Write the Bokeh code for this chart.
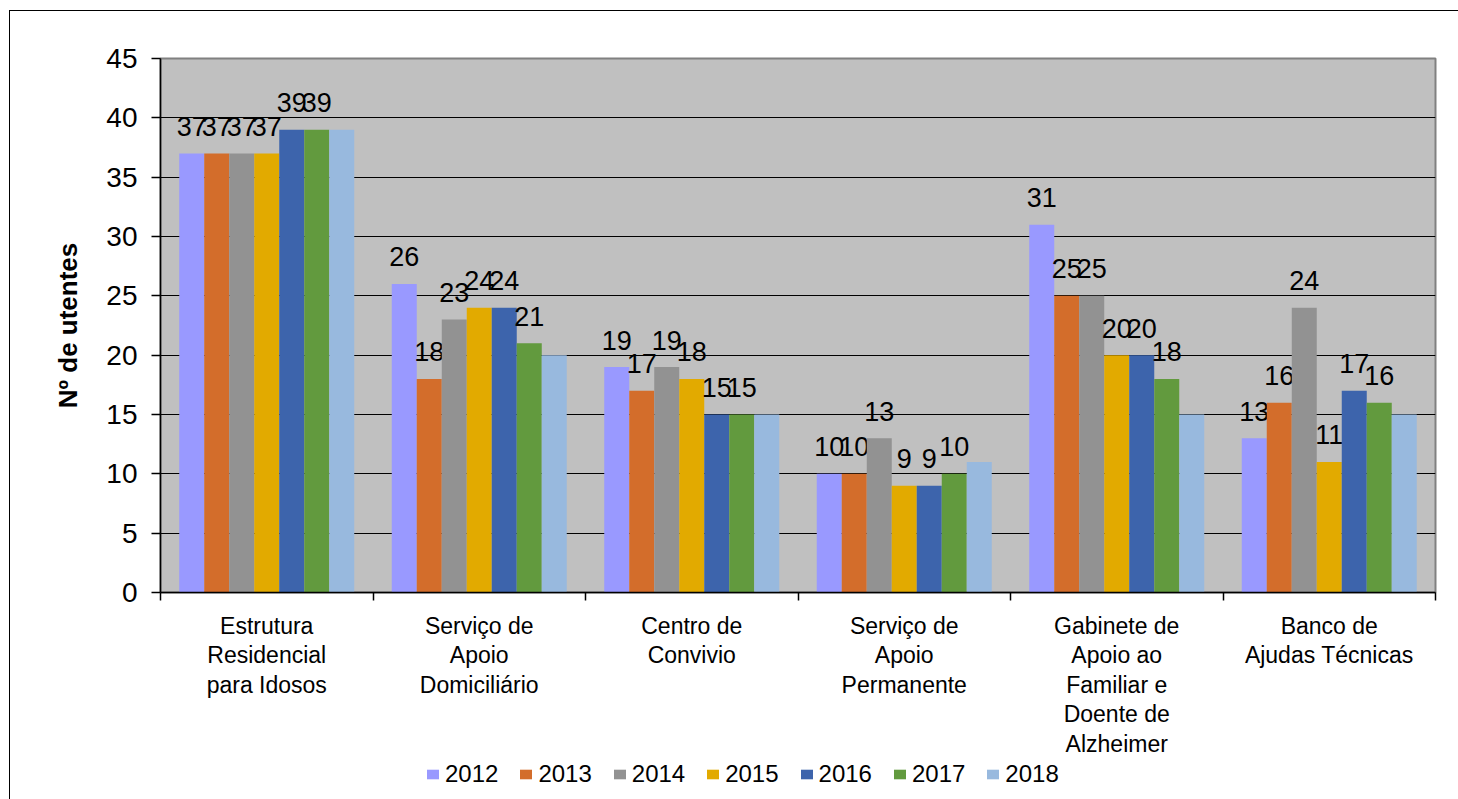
from bokeh.plotting import figure
from bokeh.layouts import column
from bokeh.models import ColumnDataSource, FixedTicker, Legend, LegendItem, Range1d
from bokeh.transform import dodge
from bokeh.core.properties import value
from bokeh.embed import file_html
from bokeh.resources import INLINE

categories = [
    "Estrutura\nResidencial\npara Idosos",
    "Serviço de\nApoio\nDomiciliário",
    "Centro de\nConvivio",
    "Serviço de\nApoio\nPermanente",
    "Gabinete de\nApoio ao\nFamiliar e\nDoente de\nAlzheimer",
    "Banco de\nAjudas Técnicas",
]
years = ["2012", "2013", "2014", "2015", "2016", "2017", "2018"]
v2012 = [37, 26, 19, 10, 31, 13]
v2013 = [37, 18, 17, 10, 25, 16]
v2014 = [37, 23, 19, 13, 25, 24]
v2015 = [37, 24, 18, 9, 20, 11]
v2016 = [39, 24, 15, 9, 20, 17]
v2017 = [39, 21, 15, 10, 18, 16]
v2018 = [39, 20, 15, 11, 15, 15]
show_labels = [True, True, True, True, True, True, False]
y_ticks = [0, 5, 10, 15, 20, 25, 30, 35, 40, 45]

series = [v2012, v2013, v2014, v2015, v2016, v2017, v2018]
colors = ["#9999FF", "#D36D2B", "#929292", "#E2AA00", "#3D64AC", "#629A3E", "#98B9DE"]

FONT = "Liberation Sans"
centers = [i + 0.5 for i in range(len(categories))]
data = {"x": centers}
for y, s in zip(years, series):
    data["v" + y] = s
    data["t" + y] = [str(v) for v in s]
src = ColumnDataSource(data)

p = figure(width=1449, height=749, x_range=(0, len(categories)), y_range=(0, 45),
           output_backend="svg", toolbar_location=None,
           min_border_left=150, min_border_right=24, min_border_top=47, min_border_bottom=166,
           background_fill_color="#C0C0C0", border_fill_color="white")
p.outline_line_color = "#808080"
p.outline_line_width = 2

w = 25 / 212.5
for j, (y, c) in enumerate(zip(years, colors)):
    off = (j - 3) * w
    p.vbar(x=dodge("x", off, range=p.x_range), top="v" + y, width=w, source=src,
           fill_color=c, line_color=None)
    if show_labels[j]:
        p.text(x=dodge("x", off, range=p.x_range), y="v" + y, text="t" + y, source=src,
               text_font=value(FONT), text_font_size="27px", text_color="black",
               text_align="center", text_baseline="alphabetic", y_offset=-27)

# axes
p.yaxis.ticker = FixedTicker(ticks=y_ticks)
p.yaxis.major_tick_out = 9
p.yaxis.major_tick_in = 0
p.yaxis.minor_tick_line_color = None
p.yaxis.major_label_text_font = FONT
p.yaxis.major_label_text_font_size = "28px"
p.yaxis.major_label_text_color = "black"
p.yaxis.major_label_standoff = 14
p.yaxis.axis_line_color = "black"
p.yaxis.axis_line_width = 1.5
p.yaxis.major_tick_line_color = "black"
p.yaxis.major_tick_line_width = 1.5
p.yaxis.axis_label = "Nº de utentes"
p.yaxis.axis_label_text_font = FONT
p.yaxis.axis_label_text_font_style = "bold"
p.yaxis.axis_label_text_font_size = "26px"
p.yaxis.axis_label_text_color = "black"
p.yaxis.axis_label_standoff = 20

p.xaxis.ticker = FixedTicker(ticks=centers, minor_ticks=list(range(len(categories) + 1)))
p.xaxis.major_label_overrides = {c: lab for c, lab in zip(centers, categories)}
p.xaxis.major_tick_line_color = None
p.xaxis.major_tick_out = 0
p.xaxis.major_tick_in = 0
p.xaxis.minor_tick_out = 8
p.xaxis.minor_tick_in = 0
p.xaxis.minor_tick_line_color = "black"
p.xaxis.minor_tick_line_width = 1.5
p.xaxis.axis_line_color = "black"
p.xaxis.axis_line_width = 1.5
p.xaxis.major_label_text_font = FONT
p.xaxis.major_label_text_font_size = "23px"
p.xaxis.major_label_text_color = "black"
p.xaxis.major_label_text_line_height = 1.14
p.xaxis.major_label_standoff = 12

p.xgrid.grid_line_color = None
p.ygrid.ticker = FixedTicker(ticks=y_ticks[1:-1])
p.ygrid.grid_line_color = "black"
p.ygrid.grid_line_width = 1.2

# legend strip below the chart: same series, in a strip whose ranges show no bars
q = figure(width=1449, height=40, output_backend="svg", toolbar_location=None,
           x_range=Range1d(100, 106), y_range=Range1d(100, 101),
           x_axis_type=None, y_axis_type=None, min_border=0,
           background_fill_color="white", border_fill_color="white")
q.outline_line_color = None
q.xgrid.grid_line_color = None
q.ygrid.grid_line_color = None
items = []
for y, c in zip(years, colors):
    r = q.vbar(x="x", top="v" + y, width=w, source=src, fill_color=c, line_color=None)
    items.append(LegendItem(label=y, renderers=[r]))
legend = Legend(items=items, orientation="horizontal", location=(265, 12),
                glyph_width=15, glyph_height=12, label_standoff=5, spacing=20,
                padding=0, margin=0, border_line_color=None, background_fill_alpha=0,
                label_text_font=FONT, label_text_font_size="24px", label_text_color="black")
q.add_layout(legend, "center")

layout = column(p, q, spacing=0)
layout.margin = (10, 0, 0, 9)
layout.styles = {"border-top": "1.5px solid black", "border-left": "1.5px solid black"}

open("out.html", "w").write(file_html(layout, INLINE))
